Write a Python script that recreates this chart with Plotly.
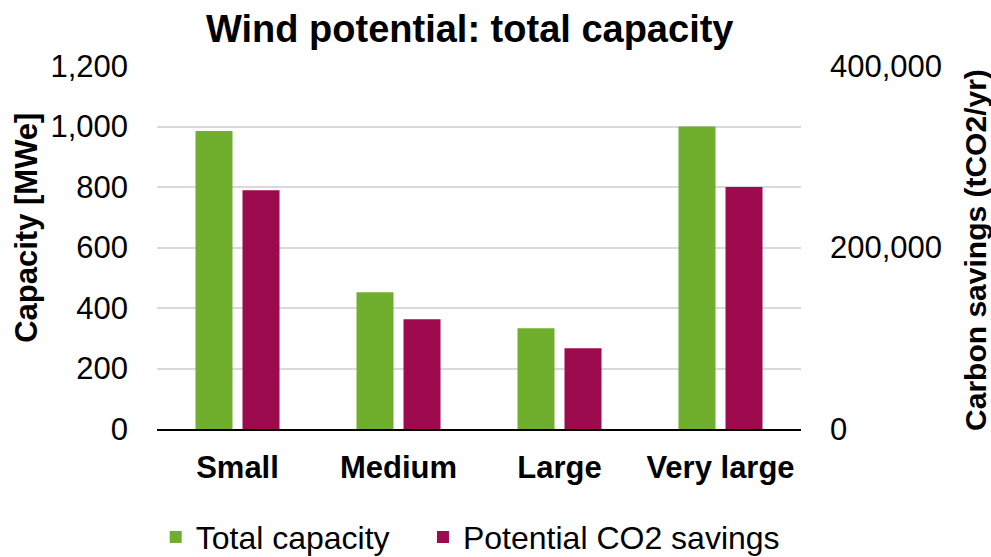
import plotly.graph_objects as go

# Wind potential by turbine size class
categories = ["Small", "Medium", "Large", "Very large"]
capacity_mwe = [985, 452, 333, 1000]             # left axis, MWe
co2_savings = [263000, 121000, 89000, 266600]    # right axis, tCO2/yr

GREEN = "#70AE2E"
PURPLE = "#9D0A4E"
FONT = "Liberation Sans, Arial, sans-serif"

fig = go.Figure()
fig.add_trace(go.Bar(
    x=categories, y=capacity_mwe, name="Total capacity",
    marker=dict(color=GREEN, line=dict(width=0)),
    offsetgroup="cap", yaxis="y", legend="legend",
))
fig.add_trace(go.Bar(
    x=categories, y=co2_savings, name="Potential CO2 savings",
    marker=dict(color=PURPLE, line=dict(width=0)),
    offsetgroup="co2", yaxis="y2", legend="legend2",
))

legend_style = dict(
    orientation="h", xanchor="left", y=-0.298, yanchor="middle",
    font=dict(size=32, family=FONT, color="black"),
    bgcolor="rgba(0,0,0,0)", itemwidth=30,
)

fig.update_layout(
    width=991, height=557,
    margin=dict(l=157, r=190, t=66, b=128, autoexpand=False),
    paper_bgcolor="white", plot_bgcolor="white",
    font=dict(family=FONT, color="black"),
    barmode="group", bargap=0.416, bargroupgap=0.213,
    xaxis=dict(
        showline=True, linecolor="black", linewidth=2, automargin=False,
        ticks="", tickfont=dict(size=31, family=FONT, color="black", weight="bold"),
        ticklabelstandoff=10,
    ),
    yaxis=dict(
        range=[0, 1200], dtick=200, tickformat=",", automargin=False,
        showgrid=True, gridcolor="#D9D9D9", gridwidth=1.5,
        zeroline=False, showline=False, ticks="",
        tickfont=dict(size=31, family=FONT, color="black"),
        ticklabelstandoff=28,
    ),
    yaxis2=dict(
        range=[0, 400000], dtick=200000, tickformat=",", automargin=False,
        overlaying="y", side="right", showgrid=False,
        zeroline=False, showline=False, ticks="",
        tickfont=dict(size=31, family=FONT, color="black"),
        ticklabelstandoff=28,
    ),
    showlegend=True,
    legend=dict(x=-0.002, **legend_style),
    legend2=dict(x=0.413, **legend_style),
    annotations=[
        dict(text="<b>Wind potential: total capacity</b>", xref="paper", yref="paper",
             x=0.486, y=1.102, xanchor="center", yanchor="middle", showarrow=False,
             font=dict(size=38, family=FONT, color="black")),
        dict(text="<b>Capacity [MWe]</b>", xref="paper", yref="paper",
             x=-0.202, y=0.554, xanchor="center", yanchor="middle", showarrow=False,
             textangle=-90, font=dict(size=31, family=FONT, color="black")),
        dict(text="<b>Carbon savings (tCO2/yr)</b>", xref="paper", yref="paper",
             x=1.270, y=0.493, xanchor="center", yanchor="middle", showarrow=False,
             textangle=-90, font=dict(size=30, family=FONT, color="black")),
    ],
)

fig.write_html("out.html")
